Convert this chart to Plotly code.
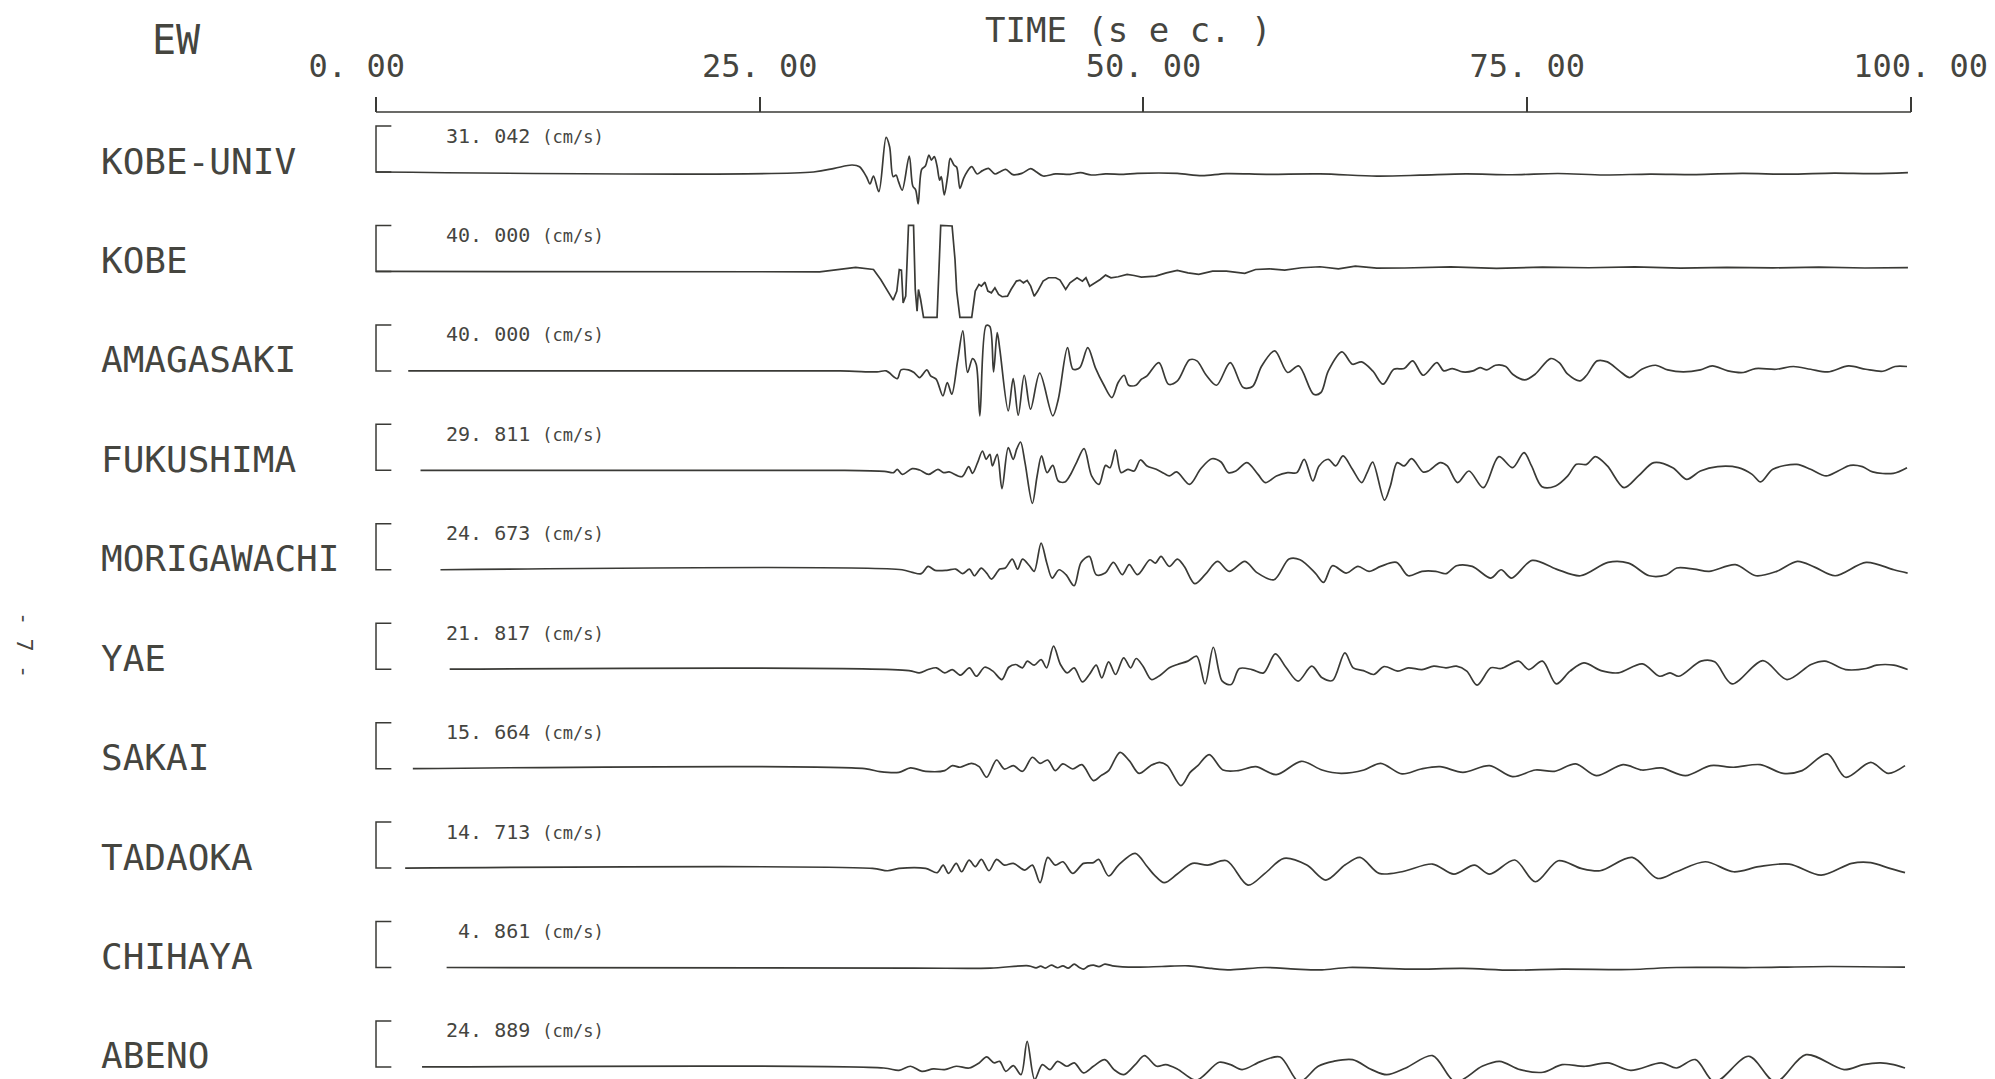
import plotly.graph_objects as go

# ---------------- data ----------------
STATIONS = ["KOBE-UNIV", "KOBE", "AMAGASAKI", "FUKUSHIMA", "MORIGAWACHI",
            "YAE", "SAKAI", "TADAOKA", "CHIHAYA", "ABENO"]
PEAKS = [31.042, 40.000, 40.000, 29.811, 24.673, 21.817, 15.664, 14.713, 4.861, 24.889]  # cm/s
SCALE_BAR = 40.0  # cm/s, height of the "[" scale bar
TIME_TICKS = [0, 25, 50, 75, 100]
TIME_TICK_LABELS = ["0. 00\u00a0\u00a0", "25. 00", "50. 00", "75. 00", "\u00a0100. 00"]

# (time [s], velocity [cm/s])
KOBE_UNIV = [(0,0),(28.5,0),(29.86,3.2),(31.02,6.1),(31.5,4.6),(31.95,-4.1),(32.18,-10.4),(32.41,-3.5),
 (32.76,-17.1),(33.23,30.1),(33.46,22.0),(33.69,-4.1),(33.88,-2.6),(34.04,-8.4),(34.28,-15.7),(34.74,13.9),
 (34.97,-12.2),(35.16,-15.7),(35.32,-27.8),(35.55,2.3),(35.79,5.2),(36.02,14.8),(36.18,10.4),(36.37,13.3),
 (36.55,5.2),(36.72,-7.0),(36.83,-4.1),(37.02,-20.0),(37.25,-2.6),(37.41,11.9),(37.65,6.1),(37.83,4.1),
 (38.04,-14.2),(38.28,-5.5),(38.51,0.3),(38.81,4.6),(39.16,-1.7),(39.51,1.2),(39.9,3.2),(40.32,-1.7),
 (40.67,0.3),(41.02,2.3),(41.49,-2.3),(42.07,-1.2),(42.65,2.9),(43.0,0.3),(43.46,-3.5),(44.28,-1.7),
 (45.21,-2.0),(45.9,-0.6),(46.6,-2.6),(47.53,-1.7),(48.7,-2.0),(49.6,-1.2),(52.2,-1.2),(53.8,-3.2),
 (55.4,-1.4),(58.0,-2.0),(61.5,-1.7),(65.2,-3.5),(68,-2.8),(71,-1.6),(74,-2.4),(77,-1.3),(80,-2.6),
 (83,-1.8),(86,-2.2),(89,-1.2),(92,-1.9),(95,-1.0),(97.5,-1.4),(99.8,-0.5)]

KOBE = [(0,0),(28.9,-0.3),(31.25,3.5),(32.41,1.7),(32.88,-7.0),(33.34,-17.1),(33.69,-24.9),(33.93,-17.1),
 (34.09,1.7),(34.23,1.2),(34.34,-27.3),(34.51,-21.5),(34.69,40),(35.02,40),(35.13,-15.7),(35.25,-34.5),
 (35.34,-15.7),(35.48,-24.4),(35.67,-40),(36.55,-40),(36.79,40),(37.53,39.5),(37.72,10.4),(37.83,-17.1),
 (38.04,-40),(38.81,-40),(39.04,-17.1),(39.28,-11.3),(39.44,-12.8),(39.67,-9.3),(39.86,-17.1),(40.09,-18.6),
 (40.32,-14.2),(40.56,-20.0),(40.79,-22.0),(41.14,-21.5),(41.37,-15.7),(41.72,-8.4),(41.95,-7.5),(42.18,-9.9),
 (42.42,-7.8),(42.65,-12.8),(42.88,-21.5),(43.11,-17.1),(43.46,-8.4),(43.81,-5.5),(44.28,-5.5),(44.56,-7.5),
 (44.93,-15.7),(45.21,-9.9),(45.67,-5.5),(46.02,-8.4),(46.25,-5.5),(46.49,-12.8),(46.84,-9.9),(47.18,-7.0),
 (47.53,-3.2),(47.88,-5.5),(48.35,-4.6),(48.93,-2.6),(49.39,-3.5),(49.86,-4.9),(50.79,-4.1),(51.49,-1.2),
 (52.2,0.9),(52.9,-1.2),(53.6,-2.6),(54.5,0.3),(55.4,0.3),(56.6,-1.7),(57.3,1.7),(58.2,2.3),(59.2,1.2),
 (60.3,3.2),(61.5,4.1),(62.7,2.3),(63.8,4.6),(65.2,2.9),(67,3.0),(70,4.0),(73,2.6),(76,3.8),(79,3.2),
 (82,4.0),(85,2.9),(88,3.6),(91,3.1),(94,3.8),(97,3.0),(99.8,3.4)]

AMAGASAKI = [(2.1,0),(30.23,0),(32.64,-0.9),(33.24,0),(33.96,-6.7),(34.2,0.9),(34.69,0.9),(35.05,-1.4),
 (35.41,-5.8),(35.89,0.9),(36.13,-4.3),(36.49,-7.2),(36.93,-21.7),(37.22,-10.1),(37.51,-20.3),(37.89,8.7),
 (38.23,34.8),(38.54,-1.4),(38.86,10.7),(39.1,5.8),(39.34,-39.1),(39.75,39.5),(39.99,38.6),(40.23,-0.9),
 (40.47,33.3),(40.64,18.8),(41.19,-34.8),(41.51,-6.7),(41.84,-38.6),(42.23,-3.8),(42.64,-33.3),(43.24,-2.0),
 (44.09,-39.1),(44.45,-24.6),(45.05,20.3),(45.41,1.4),(45.85,2.9),(46.37,20.3),(46.86,2.9),(47.39,-11.6),
 (47.94,-23.2),(48.35,-10.1),(48.74,-3.8),(49.03,-12.5),(49.51,-12.5),(49.87,-7.2),(50.23,-4.3),(51.0,7.2),
 (51.63,-11.6),(52.21,-8.7),(53.0,9.6),(53.48,8.7),(54.09,-3.8),(54.76,-12.5),(55.65,7.2),(56.5,-14.5),
 (57.1,-13.6),(57.7,4.3),(58.55,17.4),(59.39,-1.4),(60.11,4.3),(61.08,-20.3),(61.56,-18.8),(62.04,0),
 (62.93,16.5),(63.61,5.8),(64.21,7.8),(64.93,0),(65.61,-11.6),(66.31,1.4),(66.98,2.0),(67.54,8.7),
 (68.22,-3.8),(69.11,7.2),(69.56,0),(70.12,2.0),(70.8,-0.9),(71.47,0),(71.92,2.9),(72.37,0.9),(72.93,4.9),
 (73.6,3.8),(74.05,-2.9),(74.83,-7.8),(75.51,-2.9),(76.52,10.7),(77.08,7.2),(77.64,-2.9),(78.43,-8.7),
 (78.87,-3.8),(79.55,8.7),(80.22,7.8),(81.0,0),(81.68,-5.8),(82.46,1.4),(83.36,4.9),(84.15,0.9),
 (85.16,-0.9),(86.28,0.9),(87.06,4.3),(88.07,0),(89.08,-1.4),(89.87,2.0),(91.22,1.4),(92.34,3.8),
 (93.46,1.4),(94.58,-0.9),(95.93,4.3),(97.05,1.4),(98.17,-0.3),(98.96,3.8),(99.74,3.8)]

FUKUSHIMA = [(2.9,0),(30.23,0),(33.12,-0.9),(33.72,-2.0),(33.96,0.9),(34.28,-3.5),(34.93,1.4),(35.41,0.3),
 (36.01,-3.5),(36.61,0.9),(36.98,-2.0),(37.34,-1.4),(38.18,-5.5),(38.61,3.2),(38.86,-2.6),(39.19,6.7),
 (39.51,16.8),(39.75,9.6),(39.99,13.9),(40.16,3.8),(40.47,13.9),(40.78,-15.9),(41.19,19.7),(41.51,9.6),
 (41.75,18.8),(41.99,24.6),(42.28,6.7),(42.76,-28.7),(43.07,-4.9),(43.36,12.5),(43.72,-2.0),(44.09,4.3),
 (44.45,-9.3),(44.88,-10.1),(45.22,-4.3),(45.65,7.2),(46.13,18.8),(46.62,-4.9),(47.1,-12.2),(47.53,4.3),
 (47.82,2.3),(48.18,17.7),(48.54,-2.0),(48.98,0.9),(49.39,-0.6),(49.8,9.0),(50.23,3.8),(50.83,0.9),
 (51.32,-2.6),(51.68,-4.9),(52.16,-1.4),(53.0,-12.2),(53.73,1.4),(54.45,10.1),(55.05,7.2),(55.53,-2.0),
 (56.02,-0.6),(56.74,6.7),(57.46,-3.5),(57.94,-10.7),(58.66,-4.9),(59.39,-2.0),(59.99,-2.0),(60.47,9.6),
 (61.03,-9.3),(61.44,3.8),(62.04,9.6),(62.52,3.8),(63.0,12.5),(63.61,0.9),(64.21,-10.7),(64.57,-2.0),
 (64.93,7.2),(65.7,-26.0),(66.08,-13.6),(66.53,6.7),(66.98,3.8),(67.47,10.1),(68.21,-1.4),(68.55,-0.6),
 (69.34,6.7),(69.79,3.8),(70.46,-10.7),(71.2,-0.6),(72.14,-15.1),(73.15,11.9),(74.05,2.3),(74.79,15.4),
 (75.28,3.8),(75.96,-14.2),(76.85,-13.6),(77.64,-4.9),(78.2,5.2),(78.87,5.2),(79.44,11.9),(80.22,3.8),
 (81.3,-15.1),(82.24,-4.9),(83.25,6.7),(84.48,2.3),(85.38,-7.8),(86.28,-0.6),(87.4,3.2),(88.75,2.3),
 (89.65,-3.5),(90.2,-10.1),(91.0,0.9),(92.56,5.2),(93.46,0.9),(94.47,-4.9),(95.25,-0.6),(96.04,4.3),
 (96.83,3.2),(97.5,-1.4),(98.85,-2.6),(99.74,2.3)]

MORIGAWACHI = [(4.2,0),(34.27,0),(34.94,-2.3),(35.52,-3.4),(35.97,2.9),(36.42,-0.5),(37.18,-0.5),(37.77,0.6),
 (38.21,-3.4),(38.66,0.6),(38.98,-5.2),(39.43,1.5),(39.78,-2.9),(40.1,-8.1),(40.64,0.6),(41.0,1.5),(41.45,9.3),
 (41.8,0.6),(42.12,9.3),(42.57,3.5),(42.88,-1.4),(43.33,23.2),(43.69,6.4),(44.05,-7.2),(44.5,0),(44.95,-4.3),
 (45.48,-13.9),(45.93,6.4),(46.47,11.6),(46.92,-4.3),(47.5,-2.9),(48.04,6.4),(48.62,-4.3),(49.07,4.4),
 (49.61,-4.3),(50.42,8.7),(50.78,5.8),(51.14,11.6),(51.68,2.9),(52.21,9.3),(52.66,2.9),(53.34,-12.1),
 (54.01,-4.3),(54.82,7.3),(55.58,-1.4),(56.61,7.3),(57.37,-2.3),(58.5,-8.7),(59.48,9.3),(60.2,8.7),
 (61.19,-2.9),(61.73,-11.0),(62.31,3.5),(63.21,-2.9),(63.97,2.9),(64.69,-1.4),(65.45,2.9),(66.48,6.4),
 (67.25,-5.2),(68.14,-1.4),(69.04,-1.4),(69.71,-3.4),(70.39,3.5),(71.42,2.9),(72.63,-7.2),(73.3,0),
 (73.97,-7.2),(75.32,8.1),(76.89,0.6),(78.46,-5.2),(80.26,6.4),(81.6,5.8),(82.95,-5.2),(84.07,-4.3),
 (84.74,1.5),(85.87,0.6),(86.85,-1.4),(88.56,4.4),(89.9,-5.2),(91.25,-1.4),(92.6,7.3),(93.72,2.3),
 (95.06,-5.2),(97.08,6.4),(98.88,0),(99.78,-2.9)]

YAE = [(4.8,0),(34.72,-1.2),(35.39,-3.2),(35.97,-0.3),(36.51,1.2),(37.05,-3.2),(37.54,-0.3),(38.08,-5.2),
 (38.66,1.2),(39.11,-6.1),(39.65,1.7),(40.19,-1.7),(40.77,-9.0),(41.22,1.7),(41.67,4.1),(42.12,1.2),(42.43,7.0),
 (42.88,3.5),(43.33,8.4),(43.69,1.2),(44.14,20.0),(44.59,4.1),(45.03,-3.2),(45.48,1.2),(46.02,-11.0),
 (46.47,-4.6),(46.92,3.5),(47.28,-7.5),(47.73,6.4),(48.18,-4.6),(48.71,9.9),(49.16,1.2),(49.52,9.3),
 (49.97,2.6),(50.51,-9.0),(51.09,-5.2),(51.68,1.2),(52.21,4.1),(52.89,7.0),(53.47,11.3),(54.01,-12.8),
 (54.55,19.1),(55.13,-10.4),(55.71,-13.3),(56.25,0.6),(57.06,-0.3),(57.82,-3.2),(58.59,13.3),(59.3,1.2),
 (60.07,-10.4),(60.96,2.6),(61.64,-7.5),(62.31,-9.9),(63.12,14.2),(63.66,1.2),(64.33,-1.2),(65.0,-4.6),
 (65.67,2.3),(66.57,-1.7),(67.25,1.2),(68.14,-0.3),(68.91,2.6),(69.71,1.2),(70.39,2.6),(71.06,-1.7),
 (71.73,-13.9),(72.63,1.2),(73.3,0.6),(74.43,7.0),(75.1,-0.3),(75.99,7.0),(76.89,-12.8),(77.79,-1.7),
 (78.69,5.5),(79.81,-1.2),(80.93,-3.2),(82.5,4.6),(83.62,-6.1),(84.3,-3.2),(84.88,-6.1),(86.32,7.0),
 (87.21,6.4),(88.34,-12.8),(90.35,7.5),(91.92,-9.0),(93.49,4.1),(94.39,7.0),(95.74,-0.3),(97.08,0.6),
 (97.76,3.5),(98.88,3.5),(99.78,-0.3)]

SAKAI = [(2.4,0),(31.84,0),(32.83,-2.6),(34.07,-3.2),(34.82,0.6),(35.81,-2.3),(37.05,-1.7),(37.55,2.6),
 (38.05,1.2),(38.79,4.6),(39.29,1.7),(39.78,-7.5),(40.43,7.5),(40.93,-0.3),(41.52,2.6),(42.12,-2.3),
 (42.76,9.9),(43.26,4.6),(43.76,7.5),(44.25,-1.7),(44.75,4.1),(45.39,-0.3),(45.99,3.5),(46.74,-10.4),
 (47.23,-6.1),(47.73,-1.7),(48.47,14.2),(49.07,7.0),(49.71,-4.1),(50.46,2.6),(51.05,5.5),(51.55,2.6),
 (52.44,-14.8),(53.04,-3.2),(53.54,2.6),(54.28,12.2),(55.18,-1.2),(56.17,-1.7),(57.31,1.7),(58.65,-5.2),
 (60.29,6.4),(61.63,-1.2),(62.87,-4.1),(64.36,-1.2),(65.45,4.6),(66.84,-4.6),(68.08,-0.3),(69.32,1.7),
 (70.81,-3.2),(72.55,2.6),(74.04,-7.0),(75.53,-1.2),(76.77,-2.3),(78.16,4.1),(79.5,-6.1),(81.24,3.5),
 (82.48,-1.2),(83.72,0.6),(85.31,-6.1),(86.95,2.6),(88.44,1.2),(90.18,3.5),(91.67,-4.1),(92.91,-1.7),
 (94.55,12.8),(95.74,-7.5),(97.38,5.5),(98.52,-4.1),(99.61,2.6)]

TADAOKA = [(1.9,0),(32.34,-0.3),(33.33,-2.3),(34.07,-0.3),(35.81,-0.3),(36.56,-4.0),(36.95,2.6),(37.3,-4.6),
 (37.8,4.1),(38.15,-3.2),(38.64,7.0),(39.04,1.2),(39.44,7.6),(39.93,-2.3),(40.43,7.6),(40.93,2.6),(41.52,4.1),
 (42.27,-1.7),(42.76,2.6),(43.26,-12.7),(43.76,9.3),(44.25,2.6),(44.75,5.5),(45.39,-4.6),(46.09,4.1),
 (46.74,4.7),(47.08,7.6),(47.73,-6.9),(48.37,2.6),(49.46,12.8),(50.21,1.8),(50.71,-6.1),(51.35,-12.7),
 (52.2,-5.2),(53.19,4.1),(54.18,2.6),(55.42,6.4),(56.81,-14.8),(57.91,-4.6),(59.15,8.4),(60.64,2.6),
 (61.88,-10.4),(63.12,2.6),(64.11,9.3),(65.35,-4.6),(66.84,-3.2),(68.83,3.5),(70.22,-5.2),(71.56,2.6),
 (72.55,-5.2),(74.19,7.0),(75.53,-11.9),(77.02,6.4),(78.51,-0.3),(79.75,-2.3),(81.84,9.3),(83.48,-9.0),
 (84.72,-3.2),(86.6,5.5),(88.44,-3.2),(90.08,1.2),(92.07,3.5),(94.15,-6.1),(96.14,4.1),(97.38,4.7),
 (98.62,-0.3),(99.61,-4.0)]

CHIHAYA = [(4.6,0),(35.07,-0.5),(40.03,-0.5),(42.52,1.5),(43.0,-0.3),(43.3,1.2),(43.6,-0.5),(44.0,2.1),
 (44.4,-0.2),(44.75,1.4),(45.1,-0.6),(45.49,2.9),(45.8,0.2),(46.09,-1.4),(46.4,1.2),(46.74,2.1),(47.1,0.8),
 (47.48,2.9),(47.98,1.5),(49.46,0.3),(51.2,0.9),(52.94,1.5),(54.43,-0.8),(55.67,-2.0),(57.91,0),(59.89,-1.4),
 (61.63,-2.0),(63.37,0),(67.34,-1.4),(70.81,-0.8),(74.04,-2.3),(77.27,-1.4),(81.74,-1.7),(84.72,0),
 (89.68,0),(94.65,0.9),(99.61,0.3)]

ABENO = [(3.0,0),(33.08,-0.9),(34.07,-2.9),(34.82,0.6),(35.56,-3.8),(36.31,-1.7),(37.05,-2.3),(37.8,0.6),
 (38.64,-0.9),(39.29,3.5),(39.78,8.7),(40.28,3.5),(40.63,4.9),(41.03,-3.8),(41.52,1.2),(42.02,-6.7),
 (42.42,22.3),(42.91,-11.0),(43.41,2.0),(43.91,-2.3),(44.4,4.9),(45.0,0.6),(45.49,3.5),(46.09,-5.2),
 (46.74,0.6),(47.48,6.4),(48.08,-2.3),(48.72,-6.7),(49.46,2.0),(50.06,9.9),(50.86,0.6),(51.45,2.0),
 (52.2,-1.7),(53.44,-11.5),(54.93,4.1),(55.67,2.0),(56.42,-2.3),(57.66,4.9),(58.9,8.7),(60.14,-13.0),
 (61.38,0.6),(62.38,4.9),(63.62,6.4),(64.86,-2.3),(65.85,-6.7),(67.09,-0.9),(68.83,9.9),(70.32,-13.0),
 (72.06,0.6),(73.2,4.9),(74.54,-2.3),(76.03,-4.6),(77.27,2.0),(78.76,0.6),(80.25,3.5),(81.74,-2.9),
 (83.73,3.5),(84.72,-0.9),(85.96,6.4),(87.2,-13.0),(89.43,9.3),(91.17,-13.0),(93.16,10.7),(95.64,-2.3),
 (96.88,2.0),(98.02,3.5),(98.87,2.0),(99.61,-0.9)]

RECORDS = [KOBE_UNIV, KOBE, AMAGASAKI, FUKUSHIMA, MORIGAWACHI, YAE, SAKAI, TADAOKA, CHIHAYA, ABENO]

# ---------------- layout constants (pixels of the 1995x1079 page) ----------------
PAGE_W, PAGE_H = 1995, 1079
OFF = 8                      # default page margin of the html body
W, H = PAGE_W - OFF, PAGE_H - OFF
PX_PER_S = 15.35             # horizontal scale
X0 = 376 - OFF               # figure pixel of t = 0
K = SCALE_BAR / 46.0         # cm/s per pixel (scale bar spans 46 px)
ROW = 99.44 * K              # row spacing in cm/s units
BASE0 = 172 - OFF            # figure pixel of the first baseline
AXIS_PX = 112 - OFF          # figure pixel of the time axis line
INK = "#3a3a36"
TEXT_INK = "#45453f"
FONT = "DejaVu Sans Mono"


def px(xp):  # page pixel -> paper fraction (x)
    return (xp - OFF) / W


def py(yp):  # page pixel -> paper fraction (y)
    return 1 - (yp - OFF) / H


fig = go.Figure()

for i, rec in enumerate(RECORDS):
    off = -ROW * i
    t = [p[0] for p in rec]
    v = [p[1] + off for p in rec]
    shape = "linear" if STATIONS[i] == "KOBE" else "spline"
    fig.add_trace(go.Scatter(x=t, y=v, mode="lines",
                             line=dict(color=INK, width=1.7, shape=shape, smoothing=0.9),
                             hoverinfo="skip", showlegend=False))
    # scale bracket "["
    fig.add_trace(go.Scatter(x=[1.0, 0, 0, 1.0],
                             y=[off + SCALE_BAR, off + SCALE_BAR, off, off],
                             mode="lines", line=dict(color=INK, width=1.5),
                             hoverinfo="skip", showlegend=False))
    fig.add_annotation(x=px(99), xref="paper", y=off + 11 * K, yref="y",
                       text=STATIONS[i], showarrow=False, xanchor="left", yanchor="middle",
                       font=dict(family=FONT, size=36, color=TEXT_INK))
    amp = f"{PEAKS[i]:.3f}".replace(".", ". ")
    fig.add_annotation(x=(606 - 376) / PX_PER_S, xref="x", y=off + (46 - 9.5) * K, yref="y",
                       text=amp + " <span style='font-size:17px'>(cm/s)</span>",
                       showarrow=False, xanchor="right", yanchor="middle",
                       font=dict(family=FONT, size=20, color=TEXT_INK))

# time axis line
axis_y = (BASE0 - AXIS_PX) * K
fig.add_trace(go.Scatter(x=[TIME_TICKS[0], TIME_TICKS[-1]], y=[axis_y, axis_y], mode="lines",
                         line=dict(color=INK, width=1.5), hoverinfo="skip", showlegend=False))

xr = [-1.5, 101]
fig.update_layout(
    template="none",
    width=W, height=H, margin=dict(l=0, r=0, t=0, b=0, pad=0, autoexpand=False),
    paper_bgcolor="white", plot_bgcolor="rgba(0,0,0,0)", showlegend=False,
    xaxis=dict(range=xr, domain=[(X0 + xr[0] * PX_PER_S) / W, (X0 + xr[1] * PX_PER_S) / W],
               anchor="free", position=1 - AXIS_PX / H, side="top", automargin=False,
               showline=False, ticks="outside", ticklen=15, tickwidth=1.5, tickcolor=INK,
               tickvals=TIME_TICKS, ticktext=TIME_TICK_LABELS, ticklabelstandoff=7,
               tickfont=dict(family=FONT, size=32, color=TEXT_INK),
               showgrid=False, zeroline=False, fixedrange=True),
    yaxis=dict(range=[(BASE0 - H) * K, BASE0 * K], domain=[0, 1], visible=False,
               automargin=False, showgrid=False, zeroline=False, fixedrange=True),
)

fig.add_annotation(x=px(176), y=py(40), xref="paper", yref="paper", text="EW", showarrow=False,
                   xanchor="center", yanchor="middle",
                   font=dict(family=FONT, size=40, color=TEXT_INK))
fig.add_annotation(x=px(1128), y=py(30), xref="paper", yref="paper", text="TIME (s e c. )",
                   showarrow=False, xanchor="center", yanchor="middle",
                   font=dict(family=FONT, size=34, color=TEXT_INK))
fig.add_annotation(x=px(25), y=py(645), xref="paper", yref="paper", text="- 7 -", textangle=90,
                   showarrow=False, xanchor="center", yanchor="middle",
                   font=dict(family=FONT, size=22, color=TEXT_INK))

fig.write_html("out.html")
